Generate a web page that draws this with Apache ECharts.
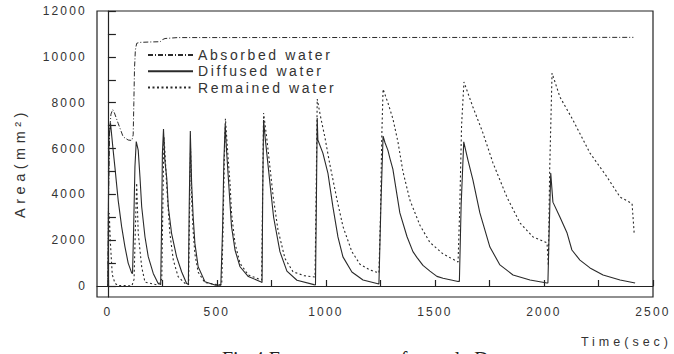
<!DOCTYPE html>
<html>
<head>
<meta charset="utf-8">
<script src="https://cdn.jsdelivr.net/npm/echarts@6/dist/echarts.min.js"></script>
<style>
  html, body { margin: 0; padding: 0; background: #ffffff; }
  #chart { width: 674px; height: 354px; }
  /* spaced-out lettering of the plot typography */
  #chart svg text[style*="12px"] { letter-spacing: 2.2px; }
  #chart svg text[style*="14px"] { letter-spacing: 2.6px; }
  #chart svg text[style*="12.5px"] { letter-spacing: 4px; }
  #chart svg text[style*="14.5px"] { letter-spacing: 4.5px; }
</style>
</head>
<body>
<div id="chart"></div>
<script>
// Series names (legend order)
const seriesNames = ['Absorbed water', 'Diffused water', 'Remained water'];

// Axis ticks and labels
const xLabelValues = [0, 500, 1000, 1500, 2000, 2500];
const xTickValues = [0, 250, 500, 750, 1000, 1250, 1500, 1750, 2000, 2250, 2500];
const yLabelValues = [0, 2000, 4000, 6000, 8000, 10000, 12000];
const yTickValues = [0, 1000, 2000, 3000, 4000, 5000, 6000, 7000, 8000, 9000, 10000, 11000, 12000];

// Absorbed water: time (sec) and area (mm²)
const absorbedTime = [0, 3, 8, 14, 22, 30, 47, 70, 93, 110, 116, 119, 122, 126, 132, 145, 200, 240, 250, 262, 320, 2410];
const absorbedArea = [0, 4000, 6800, 7500, 7700, 7550, 7100, 6510, 6370, 6350, 6600, 8000, 9500, 10300, 10590, 10630, 10650, 10660, 10750, 10800, 10840, 10850];

// Diffused water: time (sec) and area (mm²), one line per pulse
const diffusedTime = [
  0, 2, 5, 12, 24, 32, 47, 63, 78, 93, 109, 113,
  118, 124, 130, 139, 147, 155, 170, 185, 208, 230, 242,
  246, 250, 255, 261, 270, 277, 292, 315, 338, 361, 369,
  373, 378, 384, 391, 399, 414, 445, 491, 518,
  526, 532, 538, 544, 552, 560, 567, 583, 606, 644, 700, 707,
  710, 714, 722, 743, 760, 789, 821, 867, 945, 952,
  956, 960, 963, 986, 1009, 1032, 1055, 1078, 1119, 1170, 1243,
  1252, 1262, 1271, 1284, 1294, 1307, 1317, 1339, 1372, 1399, 1417, 1445, 1477, 1509, 1537, 1606,
  1612, 1620, 1632, 1651, 1674, 1706, 1752, 1798, 1858, 1936, 2014, 2018,
  2024, 2031, 2041, 2073, 2106, 2128, 2165, 2211, 2271, 2349, 2418
];
const diffusedArea = [
  0, 3000, 6500, 7100, 5930, 5200, 3750, 2590, 1720, 1000, 570, 550,
  2500, 5200, 6300, 5930, 4770, 3460, 2150, 1280, 550, 120, 60,
  2500, 5800, 6850, 5500, 4700, 3460, 2300, 1280, 620, 110, 80,
  3500, 6760, 4490, 3020, 1860, 840, 190, 40, 40,
  2500, 5500, 7050, 5930, 4770, 3600, 2590, 1570, 840, 410, 190, 150,
  4000, 7240, 6400, 4500, 3000, 1500, 650, 250, 60, 50,
  3500, 7330, 6370, 5800, 4930, 3450, 2140, 1270, 610, 260, 90,
  3500, 6540, 6250, 5930, 5550, 5100, 4500, 3190, 2150, 1500, 1250, 900, 650, 420, 340, 200,
  200, 3500, 6290, 5500, 4630, 3190, 1700, 920, 480, 260, 130, 130,
  2500, 4930, 3660, 3010, 2310, 1570, 1130, 790, 480, 260, 130
];

// Remained water: time (sec) and area (mm²), one line per pulse
const remainedTime = [
  0, 3, 6, 12, 20, 32, 45, 110,
  120, 126, 132, 139, 155, 170, 229,
  247, 252, 257, 262, 269, 284, 300, 322, 353, 370,
  374, 379, 384, 391, 399, 414, 445, 500, 522,
  528, 534, 539, 552, 560, 567, 583, 606, 644, 705,
  709, 714, 728, 743, 758, 780, 812, 849, 900, 950,
  955, 960, 975, 995, 1018, 1050, 1078, 1119, 1156, 1202, 1243,
  1250, 1256, 1262, 1284, 1307, 1330, 1353, 1385, 1431, 1477, 1537, 1606,
  1614, 1622, 1633, 1674, 1720, 1766, 1830, 1890, 1950, 2014, 2020,
  2026, 2037, 2073, 2133, 2211, 2289, 2349, 2404, 2414
];
const remainedArea = [
  0, 2000, 3180, 1800, 500, 130, 20, 10,
  300, 2500, 4490, 2310, 830, 170, 40,
  300, 3500, 6500, 5800, 4490, 2310, 1130, 410, 120, 60,
  3000, 6000, 3800, 2400, 1400, 600, 150, 60, 60,
  2500, 5500, 7300, 5500, 4490, 3170, 1860, 990, 480, 260,
  3500, 7550, 6500, 5200, 3900, 2450, 1200, 620, 450, 390,
  4000, 8160, 7400, 6500, 5300, 3800, 2600, 1500, 950, 700, 570,
  3000, 6500, 8590, 8000, 7300, 6300, 5000, 3750, 2650, 1900, 1400, 1050,
  3500, 7000, 8900, 7810, 6680, 5370, 3880, 2750, 2140, 1880, 900,
  5000, 9290, 8250, 7240, 5800, 4760, 3880, 3600, 2250
];

const zip = (ts, vs) => ts.map((t, i) => [t, vs[i]]);

const ink = '#2a2a2a';
const sans = 'Liberation Sans';

const chart = echarts.init(document.getElementById('chart'), null, { renderer: 'svg' });

chart.setOption({
  backgroundColor: '#ffffff',
  animation: false,
  grid: {
    left: 97, right: 21, top: 11, bottom: 57,
    show: true, borderColor: '#222', borderWidth: 1.2,
    outerBoundsMode: 'none'
  },
  legend: {
    orient: 'vertical',
    left: 147, top: 48,
    padding: 0,
    itemWidth: 45, itemHeight: 14, itemGap: 2.3,
    // line-only keys: hide the marker drawn in the middle of each key
    itemStyle: { opacity: 0 },
    textStyle: { fontFamily: sans, fontSize: 14, color: '#333' },
    data: seriesNames
  },
  xAxis: {
    type: 'value',
    min: -50, max: 2500,
    axisLine: { show: true, lineStyle: { color: '#222', width: 1.2 } },
    axisTick: { show: true, inside: true, length: 6, customValues: xTickValues, lineStyle: { color: '#222', width: 1.2 } },
    axisLabel: {
      customValues: xLabelValues, margin: 9,
      fontFamily: sans, fontSize: 12, color: '#333',
      formatter: v => String(v)
    },
    splitLine: { show: false }
  },
  yAxis: {
    type: 'value',
    min: -480, max: 12000,
    axisLine: { show: true, lineStyle: { color: '#222', width: 1.2 } },
    axisTick: { show: true, inside: true, length: 8, customValues: yTickValues, lineStyle: { color: '#222', width: 1.2 } },
    axisLabel: {
      customValues: yLabelValues, margin: 10,
      fontFamily: sans, fontSize: 12, color: '#333',
      formatter: v => String(v)
    },
    splitLine: { show: false }
  },
  series: [
    {
      name: seriesNames[0], type: 'line', symbol: 'none',
      data: zip(absorbedTime, absorbedArea),
      lineStyle: { color: ink, width: 1, type: [5, 2, 1, 2] },
      itemStyle: { color: ink }
    },
    {
      name: seriesNames[1], type: 'line', symbol: 'none',
      data: zip(diffusedTime, diffusedArea),
      lineStyle: { color: ink, width: 1.1, type: 'solid' },
      itemStyle: { color: ink }
    },
    {
      name: seriesNames[2], type: 'line', symbol: 'none',
      data: zip(remainedTime, remainedArea),
      lineStyle: { color: ink, width: 1.1, type: [2, 2.5] },
      itemStyle: { color: ink }
    }
  ],
  graphic: [
    {
      type: 'text', x: 20, y: 163, rotation: Math.PI / 2,
      style: { text: 'Area(mm²)', fontFamily: sans, fontSize: 14.5, fill: '#333', align: 'center', verticalAlign: 'middle' }
    },
    {
      type: 'text', x: 672, y: 342,
      style: { text: 'Time(sec)', fontFamily: sans, fontSize: 12.5, fill: '#333', align: 'right', verticalAlign: 'middle' }
    },
    {
      type: 'text', x: 222, y: 359,
      style: { text: 'Fig.4 Feature curves of sample D', fontFamily: 'Liberation Serif', fontSize: 20, fill: '#222', align: 'left', verticalAlign: 'middle' }
    }
  ]
});
</script>
</body>
</html>
